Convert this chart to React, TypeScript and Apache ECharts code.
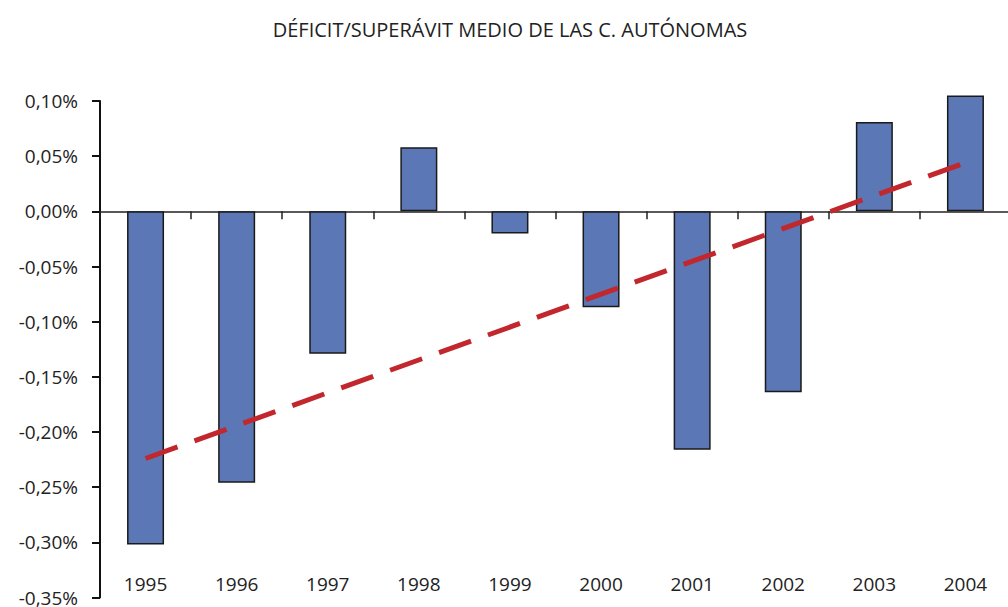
import React, { useEffect, useRef } from "react";
import * as echarts from "echarts";

const TITLE = "DÉFICIT/SUPERÁVIT MEDIO DE LAS C. AUTÓNOMAS";
const years = ["1995", "1996", "1997", "1998", "1999", "2000", "2001", "2002", "2003", "2004"];
const balance = [-0.302, -0.246, -0.129, 0.058, -0.02, -0.087, -0.216, -0.164, 0.081, 0.105];
const trendStart = -0.224;
const trendEnd = 0.044;
const yMin = -0.35;
const yMax = 0.1;
const yStep = 0.05;

export default function App() {
  const ref = useRef<HTMLDivElement>(null);
  useEffect(() => {
    if (!ref.current) return;
    const chart = echarts.init(ref.current, undefined, { renderer: "svg" });
    const trend = years.map((_, i) => (i === 0 ? trendStart : i === years.length - 1 ? trendEnd : null));
    const font = "Open Sans";
    chart.setOption({
      animation: false,
      backgroundColor: "#ffffff",
      title: {
        text: TITLE,
        left: 505,
        textAlign: "center",
        top: 14,
        textStyle: { fontFamily: font, fontSize: 20, fontWeight: "normal", color: "#222" },
      },
      grid: { left: 100, top: 101, width: 911, height: 500, containLabel: false },
      xAxis: [
        {
          type: "category",
          data: years,
          position: "bottom",
          axisLine: { show: false, onZero: false },
          axisTick: { show: false },
          axisLabel: { inside: true, margin: 4, fontFamily: font, fontSize: 19, color: "#222" },
        },
        {
          type: "category",
          data: years,
          position: "bottom",
          axisLine: { show: true, onZero: true, lineStyle: { color: "#222", width: 1.5 } },
          axisTick: { show: true, length: 8, lineStyle: { color: "#222", width: 1.5 } },
          axisLabel: { show: false },
        },
      ],
      yAxis: {
        type: "value",
        min: yMin,
        max: yMax,
        interval: yStep,
        axisLine: { show: true, lineStyle: { color: "#111", width: 2 } },
        axisTick: { show: true, length: 8, lineStyle: { color: "#111", width: 2 } },
        splitLine: { show: false },
        axisLabel: {
          margin: 22,
          fontFamily: font,
          fontSize: 19,
          color: "#222",
          formatter: (v: number) => v.toFixed(2).replace(".", ",").replace("-0,00", "0,00") + "%",
        },
      },
      series: [
        {
          type: "bar",
          xAxisIndex: 0,
          data: balance,
          barWidth: 37,
          clip: false,
          itemStyle: { color: "#5b77b5", borderColor: "#1a1a1a", borderWidth: 1.5 },
        },
        {
          type: "line",
          xAxisIndex: 0,
          data: trend,
          connectNulls: true,
          symbol: "none",
          clip: false,
          lineStyle: { color: "#c1272d", width: 5, type: [34, 18] },
          z: 5,
        },
      ],
    });
    return () => chart.dispose();
  }, []);
  return (
    <div style={{ position: "fixed", left: 0, top: 0, width: 1008, height: 607, overflow: "hidden", background: "#fff" }}>
      <div ref={ref} style={{ width: 1012, height: 607 }} />
    </div>
  );
}
